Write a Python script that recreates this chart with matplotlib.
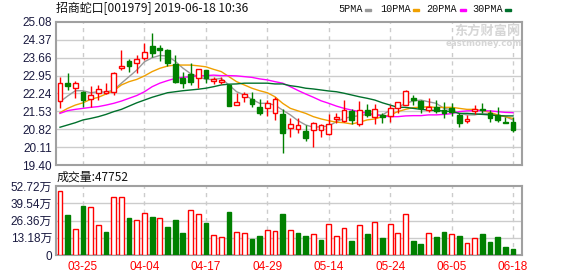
import numpy as np
import matplotlib
matplotlib.use('Agg')
import matplotlib.pyplot as plt
from matplotlib.patches import Rectangle

W, H = 578, 276

title = '招商蛇口[001979] 2019-06-18 10:36'
vol_title = '成交量:47752'
ma_names = ['5PMA', '10PMA', '20PMA', '30PMA']
ma_colors = ['#999999', '#f0a000', '#ff00ff', '#00702c']

price_ticks = [19.40, 20.11, 20.82, 21.53, 22.24, 22.95, 23.66, 24.37, 25.08]
vol_ticks = [0, 13.18, 26.36, 39.54, 52.72]
vol_tick_labels = ['0', '13.18万', '26.36万', '39.54万', '52.72万']
date_idx = [3, 11, 19, 27, 35, 43, 51, 59]
date_labels = ['03-25', '04-04', '04-17', '04-29', '05-14', '05-24', '06-05', '06-18']

# daily candles, 2019-03-20 .. 2019-06-18
opens = [21.95, 22.67, 22.45, 22.31, 22.03, 22.25, 22.27, 22.31, 23.24, 23.53,
         23.44, 23.64, 24.13, 24.05, 23.97, 23.41, 22.84, 23.01, 22.84, 23.17,
         22.74, 22.71, 22.57, 21.77, 22.11, 22.02, 21.69, 21.65, 21.45, 21.41,
         20.86, 20.82, 20.75, 20.79, 20.79, 20.62, 21.22, 21.16, 21.56, 21.03,
         21.58, 21.32, 21.39, 21.35, 21.65, 21.78, 22.05, 21.95, 21.58, 21.72,
         21.58, 21.65, 21.39, 21.15, 21.56, 21.64, 21.48, 21.39, 21.12, 21.12]
highs = [22.91, 23.07, 22.75, 22.33, 22.54, 22.57, 22.67, 23.11, 23.97, 23.60,
         23.77, 24.23, 24.63, 24.17, 24.01, 23.77, 23.11, 23.44, 23.20, 23.17,
         22.88, 22.88, 22.62, 22.25, 22.31, 22.31, 22.01, 21.98, 22.11, 21.61,
         21.25, 21.25, 20.99, 21.12, 21.03, 21.43, 21.48, 21.98, 21.64, 21.94,
         21.82, 21.81, 21.45, 21.78, 21.91, 22.38, 22.18, 21.98, 22.05, 21.98,
         21.91, 21.85, 21.45, 21.39, 21.78, 21.85, 21.58, 21.69, 21.30, 21.32]
lows = [21.65, 22.38, 22.05, 21.72, 21.69, 21.98, 22.22, 22.18, 23.17, 23.08,
        23.07, 23.57, 23.70, 23.54, 23.33, 22.65, 22.47, 22.58, 22.47, 22.65,
        22.62, 22.62, 21.74, 21.77, 21.91, 21.69, 21.39, 21.35, 21.19, 19.89,
        20.52, 20.66, 20.37, 20.13, 20.50, 20.59, 21.08, 21.12, 21.03, 20.95,
        21.30, 21.02, 21.06, 21.12, 21.45, 21.78, 21.78, 21.45, 21.52, 21.48,
        21.25, 21.35, 20.90, 21.06, 21.41, 21.45, 21.12, 21.12, 21.06, 20.72]
closes = [22.65, 22.55, 22.65, 21.98, 22.17, 22.41, 22.34, 23.07, 23.33, 23.34,
          23.60, 23.90, 23.86, 23.97, 23.44, 22.71, 22.67, 22.71, 23.20, 22.84,
          22.80, 22.78, 21.74, 21.89, 22.21, 21.81, 21.48, 21.85, 22.01, 20.66,
          21.04, 20.98, 20.48, 21.08, 20.98, 21.03, 21.32, 21.58, 21.19, 21.58,
          21.39, 21.61, 21.32, 21.65, 21.89, 22.34, 21.98, 21.65, 21.72, 21.56,
          21.45, 21.52, 21.06, 21.24, 21.61, 21.58, 21.25, 21.19, 21.06, 20.79]

# volume in 万, red = up vs previous close
volumes = [48.9, 30.6, 19.6, 37.4, 36.4, 22.9, 17.6, 44.1, 44.1, 28.3,
           26.7, 32.1, 29.0, 28.0, 21.4, 26.7, 17.0, 34.1, 31.3, 24.7,
           15.0, 13.5, 32.9, 17.3, 16.6, 12.2, 14.3, 18.9, 18.1, 31.3,
           18.9, 16.8, 14.5, 15.8, 11.5, 23.4, 14.3, 20.4, 10.7, 22.7,
           16.0, 25.0, 13.0, 23.4, 16.6, 31.1, 10.7, 8.4, 16.6, 13.8,
           17.6, 15.8, 14.5, 8.9, 12.7, 16.0, 9.9, 13.8, 6.1, 4.78]
vol_up = [1, 0, 1, 0, 1, 1, 0, 1, 1, 0,
          1, 1, 0, 1, 0, 0, 0, 1, 1, 0,
          1, 1, 0, 1, 1, 0, 0, 1, 1, 0,
          1, 0, 0, 1, 0, 1, 1, 1, 0, 1,
          0, 1, 0, 1, 1, 1, 0, 0, 1, 0,
          0, 1, 0, 1, 1, 0, 0, 0, 0, 0]

ma5 = [21.91, 22.14, 22.35, 22.35, 22.27, 22.31, 22.29, 22.38, 22.65, 22.91,
       23.17, 23.50, 23.66, 23.75, 23.73, 23.52, 23.25, 23.03, 22.91, 22.80,
       22.80, 22.84, 22.58, 22.31, 22.18, 22.01, 21.85, 21.85, 21.78, 21.58,
       21.39, 21.16, 20.99, 20.90, 20.92, 20.95, 21.12, 21.25, 21.32, 21.36,
       21.41, 21.39, 21.39, 21.58, 21.69, 21.85, 21.94, 21.98, 21.91, 21.85,
       21.65, 21.60, 21.45, 21.39, 21.39, 21.45, 21.43, 21.39, 21.32, 21.19]
ma10 = [21.48, 21.65, 21.78, 21.87, 22.01, 22.09, 22.22, 22.35, 22.58, 22.71,
        22.80, 22.94, 23.11, 23.24, 23.33, 23.37, 23.37, 23.37, 23.34, 23.30,
        23.20, 23.11, 22.91, 22.71, 22.58, 22.45, 22.35, 22.27, 22.11, 21.85,
        21.65, 21.55, 21.45, 21.32, 21.23, 21.16, 21.10, 21.08, 21.03, 21.10,
        21.19, 21.23, 21.32, 21.39, 21.52, 21.61, 21.68, 21.69, 21.72, 21.68,
        21.69, 21.69, 21.65, 21.61, 21.61, 21.56, 21.49, 21.39, 21.32, 21.25]
ma20 = [21.45, 21.56, 21.61, 21.65, 21.69, 21.72, 21.78, 21.85, 21.94, 22.05,
        22.16, 22.31, 22.51, 22.65, 22.75, 22.84, 22.88, 22.91, 22.94, 22.95,
        22.97, 22.95, 22.95, 22.94, 22.91, 22.88, 22.82, 22.78, 22.71, 22.65,
        22.51, 22.36, 22.22, 22.09, 21.95, 21.85, 21.74, 21.65, 21.58, 21.52,
        21.45, 21.41, 21.35, 21.32, 21.32, 21.35, 21.36, 21.36, 21.39, 21.39,
        21.41, 21.44, 21.52, 21.55, 21.56, 21.56, 21.55, 21.52, 21.49, 21.48]
ma30 = [20.90, 20.99, 21.08, 21.19, 21.25, 21.32, 21.41, 21.52, 21.61, 21.74,
        21.87, 21.98, 22.09, 22.18, 22.27, 22.31, 22.35, 22.38, 22.41, 22.45,
        22.51, 22.58, 22.61, 22.62, 22.65, 22.65, 22.65, 22.65, 22.62, 22.62,
        22.55, 22.51, 22.45, 22.42, 22.38, 22.34, 22.31, 22.25, 22.18, 22.11,
        22.05, 21.98, 21.87, 21.78, 21.69, 21.69, 21.65, 21.61, 21.58, 21.56,
        21.55, 21.52, 21.45, 21.45, 21.43, 21.41, 21.39, 21.36, 21.35, 21.35]

RED, GREEN = '#ff0000', '#008000'
GRID = '#cccccc'
FRAME = '#a0a0a0'
LABEL = '#1a1a40'
NUM_FONT = ['Liberation Sans', 'Noto Sans CJK SC']


def fx(x):
    return x / W


def fy(y):
    return 1 - y / H


fig = plt.figure(figsize=(W / 100, H / 100), dpi=100)
ax = fig.add_axes([fx(56), fy(165), 466 / W, 143 / H])
axv = fig.add_axes([fx(56), fy(255), 466 / W, 69 / H])

n = len(opens)
xs = np.arange(n)
o, h, l, c = map(np.array, (opens, highs, lows, closes))
up = c >= o
bw = 0.62

for a in (ax, axv):
    a.set_xlim(-0.52, 60.17)
    for s in a.spines.values():
        s.set_color(FRAME)
        s.set_linewidth(1.5)
    a.tick_params(length=0, pad=3, labelsize=8.5, colors=LABEL)
    for xi in date_idx:
        a.axvline(xi, color=GRID, lw=1, dashes=(3, 3), zorder=0)

# price panel
ax.set_ylim(price_ticks[0], price_ticks[-1])
ax.set_yticks(price_ticks)
ax.set_yticklabels([f'{v:.2f}' for v in price_ticks], family=NUM_FONT)
ax.set_xticks([])
for v in price_ticks[1:-1]:
    ax.axhline(v, color=GRID, lw=1, zorder=0)

top = np.maximum(o, c)
bot = np.minimum(o, c)
body = np.maximum(top - bot, 0.02)
# wicks
ax.vlines(xs[~up], l[~up], h[~up], color=GREEN, lw=1, zorder=3)
ax.vlines(xs[up], top[up], h[up], color=RED, lw=1, zorder=3)
ax.vlines(xs[up], l[up], bot[up], color=RED, lw=1, zorder=3)
ax.bar(xs[~up], body[~up], bottom=bot[~up], width=bw, color=GREEN,
       edgecolor=GREEN, lw=1, zorder=4)
ax.bar(xs[up], body[up], bottom=bot[up], width=bw, facecolor='white',
       edgecolor=RED, lw=1, zorder=4)

for ma, col in zip((ma5, ma10, ma20, ma30), ma_colors):
    ax.plot(xs, ma, color=col, lw=1, zorder=2)

# volume panel
axv.set_ylim(vol_ticks[0], vol_ticks[-1])
axv.set_yticks(vol_ticks)
axv.set_yticklabels(vol_tick_labels, family=NUM_FONT)
for v in vol_ticks[1:-1]:
    axv.axhline(v, color=GRID, lw=1, zorder=0)
axv.set_xticks(date_idx)
axv.set_xticklabels(date_labels, family=NUM_FONT, color=RED, fontsize=8.5)
axv.tick_params(axis='x', pad=4)

vu = np.array(vol_up, dtype=bool)
vol = np.array(volumes)
axv.bar(xs[~vu], vol[~vu], width=bw, color=GREEN, edgecolor=GREEN, lw=1, zorder=3)
axv.bar(xs[vu], vol[vu], width=bw, facecolor='white', edgecolor=RED, lw=1, zorder=3)

# header texts
fig.text(fx(56), fy(8.5), title, family=['Noto Sans CJK SC', 'DejaVu Sans'],
         fontsize=8.6, color='#111111', va='center', ha='left')
fig.text(fx(57), fy(177), vol_title, family=['Noto Sans CJK SC', 'DejaVu Sans'],
         fontsize=8.6, color='#111111', va='center', ha='left')

leg_x = [338, 380, 426, 472]
leg_m = [365, 413, 460, 505]
for name, col, tx, mx in zip(ma_names, ma_colors, leg_x, leg_m):
    fig.text(fx(tx), fy(9.5), name, family=['Liberation Mono', 'DejaVu Sans Mono'],
             fontsize=7.3, color='#111111', va='center', ha='left')
    fig.patches.append(Rectangle((fx(mx), fy(11)), 6 / W, 2 / H,
                                 transform=fig.transFigure, color=col))

# watermark
fig.text(fx(521), fy(31), '东方财富网', family=['Noto Sans CJK SC'], fontsize=9.5,
         fontweight='bold', color='#d6d6d6', va='center', ha='right')
fig.text(fx(522), fy(43), 'eastmoney.com', family=['DejaVu Sans'], fontsize=6.2,
         fontweight='bold', color='#d6d6d6', va='center', ha='right')

fig.savefig('out.png', dpi=100)
